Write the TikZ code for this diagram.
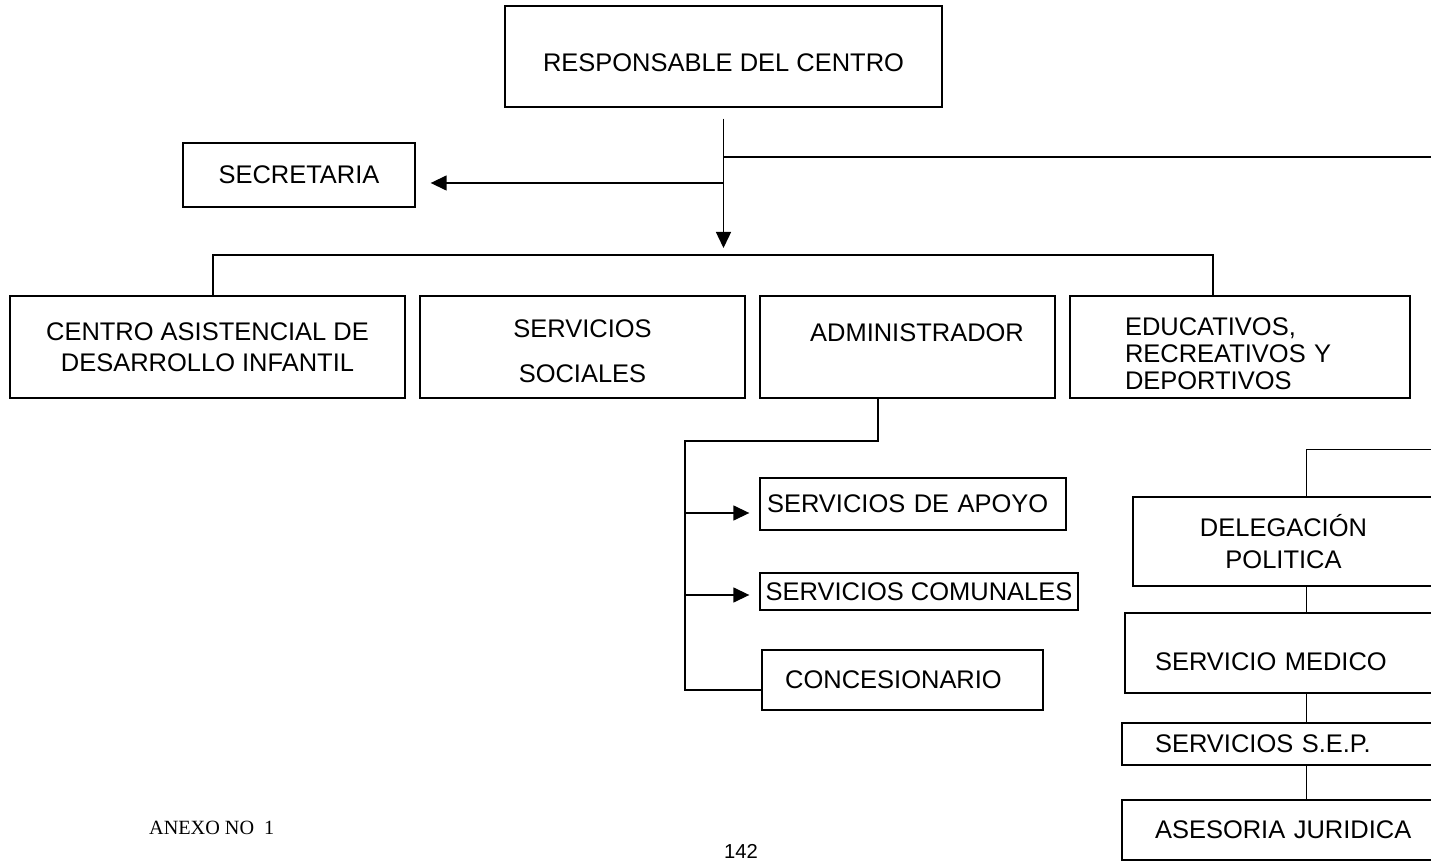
\documentclass[tikz,border=0pt]{standalone}
\usepackage{fontspec}
\setmainfont{Liberation Sans}
\newfontfamily\anexofont{Liberation Serif}
\usetikzlibrary{positioning,calc,arrows.meta}

\tikzset{
  orgbox/.style={draw, line width=0.8pt, inner sep=0pt,
    font=\fontsize{14.5}{17.6}\selectfont},
  link/.style={line width=0.8pt},
  thinlink/.style={line width=0.45pt},
  arrowlink/.style={link, -{Triangle[length=0.32cm, width=0.3cm]}}
}

\begin{document}
\begin{tikzpicture}[x=0.02cm, y=-0.02cm]
    \useasboundingbox (0,0) rectangle (1431,864);
    \clip (0,0) rectangle (1431,864);

    % top of the chart
    \node[orgbox, minimum width=8.74cm, minimum height=2.02cm, text height=17.7pt]
        (resp) at (723.5,56.5) {RESPONSABLE DEL CENTRO};
    \node[orgbox, minimum width=4.64cm, minimum height=1.28cm]
        (secre) at (299,175) {SECRETARIA};

    % first level
    \node[orgbox, minimum width=7.9cm, minimum height=2.04cm, align=center]
        (cadi) at (207.5,347) {CENTRO ASISTENCIAL DE\\DESARROLLO INFANTIL};
    \node[orgbox, minimum width=6.5cm, minimum height=2.04cm, align=center,
        font=\fontsize{14.5}{25.5}\selectfont, text height=40.5pt]
        (sociales) at (582.5,347) {SERVICIOS\\SOCIALES};
    \node[orgbox, minimum width=5.9cm, minimum height=2.04cm, text depth=15.9pt]
        (admin) at (907.5,347) {\hspace*{0.38cm}ADMINISTRADOR};
    \node[orgbox, minimum width=6.8cm, minimum height=2.04cm, text width=4.6cm,
        align=left, font=\fontsize{14.5}{15.3}\selectfont, text height=18pt]
        (edu) at (1240,347) {EDUCATIVOS,\\RECREATIVOS Y\\DEPORTIVOS};

    % under the administrador
    \node[orgbox, minimum width=6.12cm, minimum height=1.04cm, text width=5.84cm, align=left]
        (apoyo) at (913,504) {SERVICIOS DE APOYO};
    \node[orgbox, minimum width=6.36cm, minimum height=0.74cm]
        (comunal) at (919,591.5) {SERVICIOS COMUNALES};
    \node[orgbox, minimum width=5.62cm, minimum height=1.2cm]
        (conces) at (902.5,680) {CONCESIONARIO\hspace*{0.36cm}};

    % right column
    \node[orgbox, minimum width=6.02cm, minimum height=1.78cm, align=center,
        font=\fontsize{14.5}{18.2}\selectfont]
        (deleg) at (1283.5,541.5) {DELEGACIÓN\\POLITICA};
    \node[orgbox, minimum width=6.9cm, minimum height=1.6cm, text width=5.7cm,
        align=left, text height=20.6pt]
        (medico) at (1297.5,653) {SERVICIO MEDICO};
    \node[orgbox, minimum width=6.96cm, minimum height=0.84cm, text width=5.64cm, align=left]
        (sep) at (1296,744) {SERVICIOS S.E.P.};
    \node[orgbox, minimum width=6.96cm, minimum height=1.2cm, text width=5.64cm, align=left]
        (aseso) at (1296,830) {ASESORIA JURIDICA};

    % connectors
    \coordinate (split) at ($(resp.south)+(0,11)$);
    \coordinate (farR) at (1445,157);
    \coordinate (busL) at (213,255);
    \coordinate (busR) at (1213,255);
    \draw[link] (split |- farR) -- (farR);
    \draw[arrowlink, shorten >=0.14cm] (split) -- (split |- busL);
    \draw[arrowlink, shorten >=0.3cm] (split |- 0,183) -- (secre.east |- 0,183);
    \draw[link] (cadi.north -| busL) -- (busL) -- (busR) -- (busR |- edu.north);

    \coordinate (admJ) at (878,441);
    \coordinate (admL) at (685,441);
    \draw[link] (admin.south -| admJ) -- (admJ) -- (admL) -- (admL |- 0,690)
        -- (conces.west |- 0,690);
    \draw[arrowlink, shorten >=0.2cm] (admL |- 0,513) -- (apoyo.west |- 0,513);
    \draw[arrowlink, shorten >=0.2cm] (admL |- 0,595) -- (comunal.west |- 0,595);

    \coordinate (delJ) at (1306,449);
    \coordinate (farR2) at (1445,449);
    \draw[thinlink] (farR2) -- (delJ) -- (delJ |- deleg.north);
    \draw[thinlink] (deleg.south -| delJ) -- (medico.north -| delJ);
    \draw[thinlink] (medico.south -| delJ) -- (sep.north -| delJ);
    \draw[thinlink] (sep.south -| delJ) -- (aseso.north -| delJ);

    % footer
    \node[font=\anexofont\fontsize{11.5}{14}\selectfont, anchor=west]
        (anexo) at (143,828) {ANEXO NO\ \ 1};
    \node[font=\fontsize{11.5}{14}\selectfont] (pagina) at (741,851) {142};
\end{tikzpicture}
\end{document}
